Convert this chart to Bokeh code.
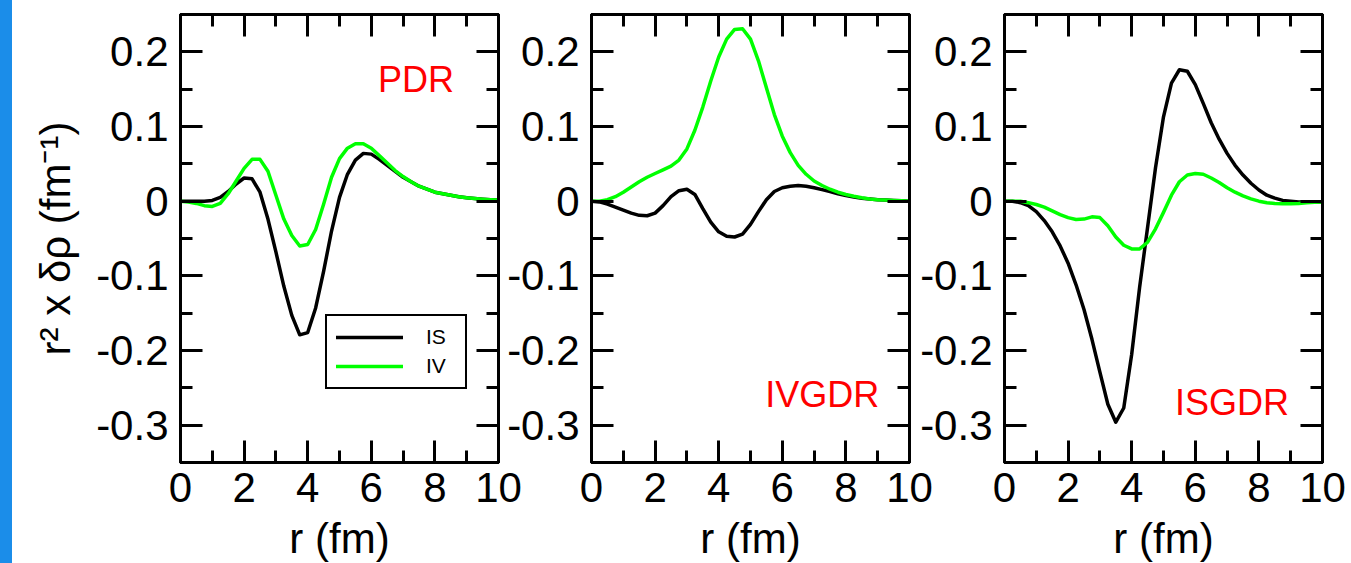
from bokeh.plotting import figure
from bokeh.models import LinearAxis, FixedTicker, Label, Div, CustomLabelingPolicy
from bokeh.layouts import row
from bokeh.embed import file_html
from bokeh.resources import INLINE

# ---------------- data ----------------
r = [0.0, 0.25, 0.5, 0.75, 1.0, 1.25, 1.5, 1.75, 2.0, 2.25, 2.5, 2.75, 3.0, 3.25,
     3.5, 3.75, 4.0, 4.25, 4.5, 4.75, 5.0, 5.25, 5.5, 5.75, 6.0, 6.25, 6.5, 6.75,
     7.0, 7.25, 7.5, 7.75, 8.0, 8.25, 8.5, 8.75, 9.0, 9.25, 9.5, 9.75, 10.0]

pdr_is = [0.000, 0.000, 0.000, 0.000, 0.001, 0.005, 0.013, 0.023, 0.031, 0.030,
          0.012, -0.024, -0.068, -0.114, -0.153, -0.179, -0.176, -0.143, -0.094,
          -0.040, 0.005, 0.036, 0.055, 0.064, 0.063, 0.056, 0.048, 0.040, 0.032,
          0.026, 0.020, 0.016, 0.012, 0.010, 0.008, 0.006, 0.0045, 0.0035, 0.0027,
          0.002, 0.0015]
pdr_iv = [0.000, -0.001, -0.003, -0.006, -0.007, -0.003, 0.010, 0.027, 0.044, 0.056,
          0.056, 0.040, 0.008, -0.024, -0.046, -0.060, -0.058, -0.038, -0.004,
          0.032, 0.057, 0.071, 0.077, 0.077, 0.071, 0.061, 0.051, 0.041, 0.033,
          0.026, 0.020, 0.016, 0.012, 0.010, 0.008, 0.006, 0.0045, 0.0035, 0.0027,
          0.002, 0.0015]

ivgdr_is = [0.000, -0.001, -0.004, -0.008, -0.012, -0.016, -0.019, -0.0195, -0.016,
            -0.006, 0.006, 0.014, 0.016, 0.009, -0.010, -0.028, -0.041, -0.047,
            -0.048, -0.044, -0.031, -0.014, 0.002, 0.013, 0.018, 0.020, 0.021, 0.020,
            0.018, 0.0155, 0.013, 0.010, 0.0075, 0.0055, 0.004, 0.003, 0.002, 0.0015,
            0.001, 0.0005, 0.000]
ivgdr_iv = [0.000, 0.000, 0.002, 0.006, 0.012, 0.019, 0.026, 0.032, 0.037, 0.042,
            0.047, 0.055, 0.070, 0.095, 0.126, 0.161, 0.193, 0.217, 0.230, 0.231,
            0.217, 0.188, 0.152, 0.116, 0.087, 0.065, 0.048, 0.036, 0.027, 0.021,
            0.016, 0.012, 0.009, 0.0065, 0.0045, 0.003, 0.002, 0.0015, 0.001, 0.0005,
            0.000]

isgdr_is = [0.000, 0.000, -0.002, -0.006, -0.014, -0.026, -0.041, -0.060, -0.083,
            -0.112, -0.145, -0.185, -0.229, -0.272, -0.296, -0.277, -0.205, -0.115,
            -0.035, 0.045, 0.113, 0.158, 0.176, 0.174, 0.156, 0.131, 0.105, 0.083,
            0.064, 0.048, 0.035, 0.024, 0.015, 0.008, 0.004, 0.001, 0.000, -0.001,
            -0.001, -0.001, -0.001]
isgdr_iv = [0.000, 0.000, 0.000, -0.002, -0.0045, -0.008, -0.013, -0.018, -0.022,
            -0.0245, -0.024, -0.021, -0.022, -0.033, -0.048, -0.059, -0.064, -0.064,
            -0.055, -0.037, -0.015, 0.008, 0.026, 0.035, 0.037, 0.036, 0.031, 0.025,
            0.018, 0.012, 0.007, 0.003, 0.000, -0.002, -0.003, -0.0035, -0.0035,
            -0.003, -0.002, -0.0015, -0.001]

panel_names = ["PDR", "IVGDR", "ISGDR"]
series_names = ["IS", "IV"]

x_ticks = [0, 2, 4, 6, 8, 10]
x_tick_labels = ["0", "2", "4", "6", "8", "10"]
x_minor = [1, 3, 5, 7, 9]
y_ticks = [-0.3, -0.2, -0.1, 0, 0.1, 0.2]
y_tick_labels = ["-0.3", "-0.2", "-0.1", "0", "0.1", "0.2"]
y_minor = [-0.35, -0.25, -0.15, -0.05, 0.05, 0.15, 0.25]

FONT = "Liberation Sans"
GREEN = "#00ff00"

NO_LABELS = "const all = [...indices]; for (const i of all) indices.unset(i); return indices;"


def style_axis(ax, labels, show_labels):
    ax.axis_line_width = 3
    ax.axis_line_color = "black"
    ax.major_tick_in = 22
    ax.major_tick_out = 0
    ax.minor_tick_in = 12
    ax.minor_tick_out = 0
    ax.major_tick_line_width = 3
    ax.minor_tick_line_width = 3
    ax.major_tick_line_color = "black"
    ax.minor_tick_line_color = "black"
    if show_labels:
        ax.major_label_overrides = labels
        ax.major_label_text_font = FONT
        ax.major_label_text_font_size = "42px"
        ax.major_label_text_color = "black"
    else:
        ax.major_label_policy = CustomLabelingPolicy(code=NO_LABELS)
        ax.major_label_text_font_size = "10px"
        ax.major_label_standoff = 0


def make_panel(name, is_vals, iv_vals, left_border, label_xy, with_ylabel, with_legend):
    p = figure(frame_width=318, frame_height=448, x_range=(0, 10), y_range=(-0.35, 0.25),
               output_backend="svg", toolbar_location=None,
               x_axis_type=None, y_axis_type=None,
               min_border_left=left_border, min_border_right=30,
               min_border_top=14, min_border_bottom=101,
               border_fill_color=None, background_fill_color="white",
               outline_line_color="black", outline_line_width=3)
    p.xgrid.visible = False
    p.ygrid.visible = False

    xt = FixedTicker(ticks=x_ticks, minor_ticks=x_minor)
    yt = FixedTicker(ticks=y_ticks, minor_ticks=y_minor)
    xlab = dict(zip(x_ticks, x_tick_labels))
    ylab = dict(zip(y_ticks, y_tick_labels))

    bottom = LinearAxis(ticker=xt)
    style_axis(bottom, xlab, True)
    bottom.major_label_standoff = 10
    bottom.axis_label = "r (fm)"
    bottom.axis_label_text_font = FONT
    bottom.axis_label_text_font_size = "42px"
    bottom.axis_label_text_font_style = "normal"
    bottom.axis_label_text_color = "black"
    bottom.axis_label_standoff = 10
    p.add_layout(bottom, "below")

    left = LinearAxis(ticker=yt)
    style_axis(left, ylab, True)
    left.major_label_standoff = 12
    if with_ylabel:
        left.axis_label = "r\u00b2 x \u03b4\u03c1 (fm\u207b\u00b9)"
        left.axis_label_text_font = FONT
        left.axis_label_text_font_size = "42px"
        left.axis_label_text_font_style = "normal"
        left.axis_label_text_color = "black"
        left.axis_label_standoff = 14
    p.add_layout(left, "left")

    top = LinearAxis(ticker=FixedTicker(ticks=x_ticks, minor_ticks=x_minor))
    style_axis(top, None, False)
    p.add_layout(top, "above")
    right = LinearAxis(ticker=FixedTicker(ticks=y_ticks, minor_ticks=y_minor))
    style_axis(right, None, False)
    p.add_layout(right, "right")

    kw = dict(line_width=3.5, line_join="round", line_cap="round")
    if with_legend:
        p.line(r, is_vals, line_color="black", legend_label=series_names[0], **kw)
        p.line(r, iv_vals, line_color=GREEN, legend_label=series_names[1], **kw)
        lg = p.legend[0]
        lg.location = (145, 73)
        lg.label_text_font = FONT
        lg.label_text_font_size = "21px"
        lg.label_text_color = "black"
        lg.glyph_width = 67
        lg.glyph_height = 20
        lg.label_height = 20
        lg.label_width = 30
        lg.label_standoff = 23
        lg.spacing = 5
        lg.padding = 9
        lg.margin = 0
        lg.border_line_color = "black"
        lg.border_line_alpha = 1.0
        lg.border_line_width = 2
        lg.background_fill_color = "white"
        lg.background_fill_alpha = 1.0
    else:
        p.line(r, is_vals, line_color="black", **kw)
        p.line(r, iv_vals, line_color=GREEN, **kw)

    p.add_layout(Label(x=label_xy[0], y=label_xy[1], text=name, text_align="right",
                       text_baseline="alphabetic", text_color="red", text_font=FONT,
                       text_font_size="36px"))
    return p


p1 = make_panel(panel_names[0], pdr_is, pdr_iv, 168, (8.6, 0.163), True, True)
p2 = make_panel(panel_names[1], ivgdr_is, ivgdr_iv, 95, (9.05, -0.259), False, False)
p3 = make_panel(panel_names[2], isgdr_is, isgdr_iv, 95, (8.95, -0.270), False, False)
p2.margin = (0, 0, 0, -32)
p3.margin = (0, 0, 0, -30)

strip = Div(text="", width=12, height=563, margin=0,
            styles={"background-color": "#1b8de9"})

layout = row(strip, p1, p2, p3, spacing=0)

open("out.html", "w").write(file_html(layout, INLINE))
